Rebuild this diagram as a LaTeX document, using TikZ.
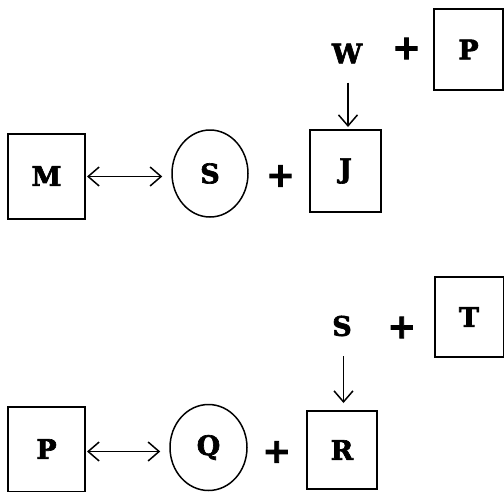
\documentclass[tikz,border=0pt]{standalone}
\usepackage{fontspec}
\setmainfont{DejaVu Serif}
\newfontfamily\heavy{DejaVu Serif}[UprightFont={* Bold}, FakeBold=2.4]
\newfontfamily\plusfont{DejaVu Sans}[UprightFont={* Bold}, FakeBold=2.5]
\usetikzlibrary{arrows.meta,shapes.geometric}
\begin{document}
\begin{tikzpicture}[x=1pt,y=-1pt,
  lbl/.style={font=\heavy\fontsize{27}{32}\selectfont, inner sep=0pt},
  sqbox/.style={lbl, draw, line width=2pt, rectangle},
  circ/.style={lbl, draw, line width=1.5pt, ellipse},
  plus/.style={font=\plusfont\fontsize{34}{38}\selectfont, inner sep=0pt},
  arr/.style={line width=1.5pt, -{Straight Barb[length=11pt,width=19pt,line width=1.5pt]}},
  darr/.style={line width=1.5pt, {Straight Barb[length=11pt,width=19pt,line width=1.5pt]}-{Straight Barb[length=11pt,width=19pt,line width=1.5pt]}}
]
\useasboundingbox (0,0) rectangle (504,491);
% top diagram
\node[sqbox, minimum width=77pt, minimum height=85pt] (M) at (46.5,176) {M};
\node[circ, minimum width=76pt, minimum height=87pt] (S) at (210,173.5) {S};
\node[plus] (p1) at (280.5,176) {+};
\node[sqbox, minimum width=71pt, minimum height=82pt] (J) at (345.5,171) {J};
\node[lbl] (W) at (347,53.5) {W};
\node[plus] (p2) at (406.5,48.5) {+};
\node[sqbox, minimum width=69pt, minimum height=81pt] (P1) at (468.5,49.5) {P};
\draw[darr, shorten <=1pt, shorten >=9pt] ([yshift=-0.5pt]M.east) -- ([yshift=-0.5pt]M.east -| S.west);
\draw[arr, shorten <=19pt, shorten >=2pt] (W.south -| 348,0) -- (J.north -| 348,0);
% bottom diagram
\node[sqbox, minimum width=77pt, minimum height=85pt] (P2) at (46.5,449) {P};
\node[circ, minimum width=77pt, minimum height=86pt] (Q) at (208.5,447.5) {Q};
\node[plus] (p3) at (276.7,452) {+};
\node[sqbox, minimum width=70pt, minimum height=78pt] (R) at (342,450) {R};
\node[lbl] (S2) at (342,326) {S};
\node[plus] (p4) at (401.7,327.5) {+};
\node[sqbox, minimum width=69pt, minimum height=80pt] (T) at (469,317) {T};
\draw[darr, shorten <=1pt, shorten >=9pt] ([yshift=-2.5pt]P2.east) -- ([yshift=-2.5pt]P2.east -| Q.west);
\draw[arr, shorten <=20pt, shorten >=7pt] (S2.south -| 343.5,0) -- (R.north -| 343.5,0);
\end{tikzpicture}
\end{document}
